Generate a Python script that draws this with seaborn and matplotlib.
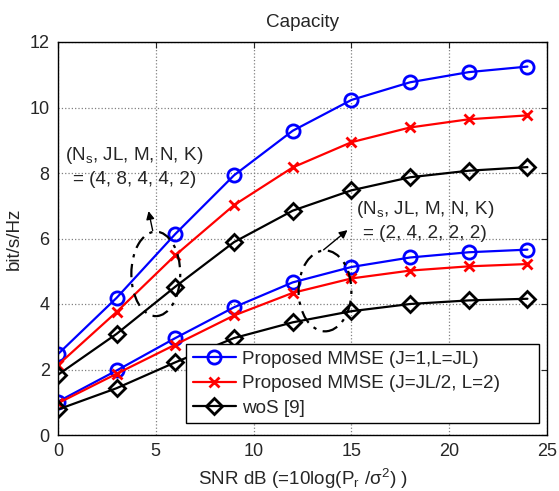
import numpy as np
import pandas as pd
import matplotlib
matplotlib.use("Agg")
import matplotlib.pyplot as plt
from matplotlib.patches import Ellipse
import seaborn as sns

# SNR points (dB)
snr_db = [0, 3, 6, 9, 12, 15, 18, 21, 24]

# (Ns, JL, M, N, K) = (4, 8, 4, 4, 2)
mmse_jl_big = [2.47, 4.19, 6.14, 7.93, 9.29, 10.23, 10.77, 11.08, 11.25]
mmse_half_big = [2.14, 3.76, 5.49, 7.02, 8.17, 8.94, 9.39, 9.64, 9.76]
wos_big = [1.84, 3.09, 4.53, 5.89, 6.85, 7.47, 7.87, 8.07, 8.18]

# (Ns, JL, M, N, K) = (2, 4, 2, 2, 2)
mmse_jl_small = [1.02, 1.97, 2.96, 3.90, 4.66, 5.13, 5.42, 5.58, 5.66]
mmse_half_small = [0.97, 1.87, 2.76, 3.65, 4.34, 4.78, 5.02, 5.15, 5.22]
wos_small = [0.78, 1.43, 2.22, 2.96, 3.44, 3.78, 4.00, 4.11, 4.16]

labels = ['Proposed MMSE (J=1,L=JL)', 'Proposed MMSE (J=JL/2, L=2)', 'woS [9]']

sns.set_style("white")
plt.rcParams['font.family'] = ['Liberation Sans', 'DejaVu Sans']
plt.rcParams['mathtext.fontset'] = 'custom'
plt.rcParams['mathtext.rm'] = 'Liberation Sans'
plt.rcParams['mathtext.it'] = 'Liberation Sans:italic'

FS = 13.6

fig, ax = plt.subplots(figsize=(5.59, 4.91), dpi=100)
fig.subplots_adjust(left=58/559, right=547/559, bottom=56/491, top=449/491)

styles = [
    dict(color='#0000ff', marker='o', markersize=9.5, markerfacecolor='none',
         markeredgecolor='#0000ff', markeredgewidth=2),
    dict(color='#ff0000', marker='x', markersize=7.5, markerfacecolor='#ff0000',
         markeredgecolor='#ff0000', markeredgewidth=2),
    dict(color='black', marker='D', markersize=8.5, markerfacecolor='none',
         markeredgecolor='black', markeredgewidth=2),
]

big = [mmse_jl_big, mmse_half_big, wos_big]
small = [mmse_jl_small, mmse_half_small, wos_small]

for vals, lab, st in zip(big, labels, styles):
    sns.lineplot(x=snr_db, y=vals, ax=ax, linewidth=1.6, label=lab, **st)
for vals, st in zip(small, styles):
    sns.lineplot(x=snr_db, y=vals, ax=ax, linewidth=1.6, legend=False, **st)

ax.set_xlim(0, 25)
ax.set_ylim(0, 12)
ax.set_xticks(range(0, 26, 5))
ax.set_yticks(range(0, 13, 2))
ax.grid(True, linestyle=':', color='#808080', linewidth=0.9)
ax.tick_params(direction='in', length=4, width=0.8, labelsize=FS - 0.6,
               top=True, right=True, pad=6)
for sp in ax.spines.values():
    sp.set_color('black')
    sp.set_linewidth(1)

ax.set_title('Capacity', fontsize=FS, pad=11)
ax.set_ylabel('bit/s/Hz', fontsize=FS, labelpad=5)
ax.set_xlabel(r'SNR dB (=10log(P$_\mathrm{r}$ /σ$^2$) )', fontsize=FS, labelpad=5)

# annotations: grouped curves
ax.add_patch(Ellipse((5.0, 4.92), 2.5, 2.58, fill=False, linestyle=(0, (6, 3, 1.5, 3)),
                     linewidth=1.6, edgecolor='black', zorder=4))
ax.add_patch(Ellipse((13.65, 4.4), 2.7, 2.47, fill=False, linestyle=(0, (6, 3, 1.5, 3)),
                     linewidth=1.6, edgecolor='black', zorder=4))
ax.annotate('', xy=(4.6, 6.92), xytext=(4.87, 6.16),
            arrowprops=dict(arrowstyle='-|>', color='black', lw=1, mutation_scale=12))
ax.annotate('', xy=(14.91, 6.31), xytext=(13.47, 5.6),
            arrowprops=dict(arrowstyle='-|>', color='black', lw=1, mutation_scale=12))
ax.text(3.9, 8.2, '(N$_\\mathrm{s}$, JL, M, N, K)\n= (4, 8, 4, 4, 2)',
        ha='center', va='center', fontsize=FS, linespacing=1.45)
ax.text(18.75, 6.55, '(N$_\\mathrm{s}$, JL, M, N, K)\n= (2, 4, 2, 2, 2)',
        ha='center', va='center', fontsize=FS, linespacing=1.45)

# legend box stretched to the reference width
leg = ax.legend(loc='lower left', bbox_to_anchor=(0.262, 0.03, 0.722, 0.2),
                mode='expand', fontsize=FS,
                frameon=True, fancybox=False, framealpha=1, edgecolor='black',
                handlelength=2.3, handletextpad=0.3, labelspacing=0.38,
                borderpad=0.35, borderaxespad=0)
leg.get_frame().set_linewidth(1)

fig.savefig('out.png', dpi=100)
